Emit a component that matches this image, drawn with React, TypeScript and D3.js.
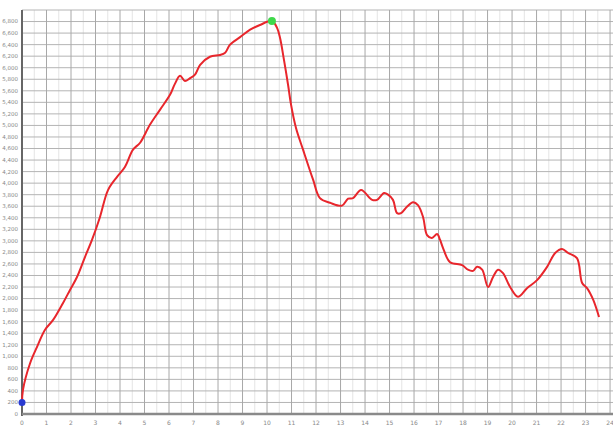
import * as d3 from 'd3';
import React from 'react';

// traced curve: x = distance (units), y = value
const xs = [
  0, 0.04, 0.33, 0.61, 0.94, 1.27, 1.67, 1.96, 2.24, 2.57, 2.86, 3.18, 3.51, 3.88, 4.2, 4.53,
  4.82, 5.22, 5.63, 6.04, 6.24, 6.45, 6.65, 6.86, 7.06, 7.27, 7.67, 8.08, 8.29, 8.49, 8.9, 9.31, 9.71,
  10.2, 10.41, 10.53, 10.69, 10.86, 10.98, 11.18, 11.47, 11.88, 12.16, 12.57, 13.06, 13.31,
  13.51, 13.84, 14.29, 14.49, 14.78, 14.94, 15.14, 15.31, 15.47, 15.71, 15.96, 16.16, 16.37,
  16.53, 16.73, 16.94, 17.06, 17.18, 17.47, 17.96, 18.2, 18.41, 18.57, 18.78, 19.02, 19.22,
  19.43, 19.63, 19.92, 20.24, 20.61, 21.02, 21.43, 21.76, 22.04, 22.29, 22.65, 22.86, 23.06,
  23.31, 23.55,
];
const values = [
  200, 420, 880, 1160, 1460, 1630, 1920, 2150, 2370, 2720, 3020, 3410, 3880, 4110, 4280, 4580,
  4700, 5010, 5270, 5530, 5720, 5860, 5770, 5820, 5880, 6050, 6190, 6220, 6260, 6400, 6530, 6660, 6740,
  6810, 6690, 6520, 6140, 5700, 5360, 4960, 4580, 4060, 3740, 3660, 3610, 3730,
  3740, 3880, 3710, 3710, 3830, 3800, 3710, 3480, 3480, 3590, 3670, 3620, 3410,
  3100, 3050, 3120, 3020, 2880, 2630, 2580, 2500, 2480, 2550, 2500, 2200, 2370,
  2500, 2440, 2200, 2030, 2180, 2320, 2550, 2790, 2860, 2790, 2700, 2270, 2180,
  1980, 1680,
];
const yTicks = d3.range(0, 7000, 200);
const xTicks = d3.range(0, 25, 1);
const startPoint = { x: 0, y: 200 };
const peakPoint = { x: 10.2, y: 6810 };

const W = 613;
const H = 428;
const left = 22;
const right = 613;
const top = 10;
const bottom = 414;

export default function App() {
  const x = d3.scaleLinear().domain([0, 24.12]).range([left, right]);
  const y = d3.scaleLinear().domain([0, 7000]).range([bottom, top]);
  const pts: [number, number][] = xs.map((v, i) => [v, values[i]]);
  const line = d3
    .line<[number, number]>()
    .x((d) => x(d[0]))
    .y((d) => y(d[1]))
    .curve(d3.curveCatmullRom.alpha(0.5));
  const minor = d3.range(0.5, 24.2, 1);
  const fmt = d3.format(',');

  return (
    <div style={{ position: 'fixed', left: 0, top: 0, background: '#fff' }}>
      <svg width={W} height={H} style={{ display: 'block', fontFamily: 'DejaVu Sans, sans-serif' }}>
        <rect x={0} y={0} width={W} height={H} fill='#fff' />
        {minor.map((t) => (
          <line key={'m' + t} x1={x(t)} x2={x(t)} y1={top} y2={bottom} stroke='#e4e4e4' strokeWidth={1} />
        ))}
        {yTicks.concat([7000]).map((t) => (
          <line key={'h' + t} x1={left} x2={right} y1={y(t)} y2={y(t)} stroke='#b4b4b4' strokeWidth={1} />
        ))}
        {xTicks.map((t) => (
          <line key={'v' + t} x1={x(t)} x2={x(t)} y1={top} y2={bottom} stroke='#a8a8a8' strokeWidth={1} />
        ))}
        <line x1={left} x2={left} y1={top} y2={bottom + 2} stroke='#666' strokeWidth={2} />
        <line x1={left} x2={right} y1={bottom} y2={bottom} stroke='#8a8a8a' strokeWidth={2.5} />
        {yTicks.map((t) => (
          <text key={'yl' + t} x={left - 4} y={y(t)} dy='0.35em' textAnchor='end' fontSize={5.5} fill='#888'>
            {fmt(t)}
          </text>
        ))}
        {xTicks.map((t) => (
          <text key={'xl' + t} x={x(t)} y={bottom + 11} textAnchor='middle' fontSize={6} fill='#888'>
            {t}
          </text>
        ))}
        <path d={line(pts) ?? ''} fill='none' stroke='#e8262c' strokeWidth={2} strokeLinejoin='round' />
        <circle cx={x(startPoint.x)} cy={y(startPoint.y)} r={3.5} fill='#2a3bd1' />
        <circle cx={x(peakPoint.x)} cy={y(peakPoint.y)} r={4} fill='#3fd84a' />
      </svg>
    </div>
  );
}
